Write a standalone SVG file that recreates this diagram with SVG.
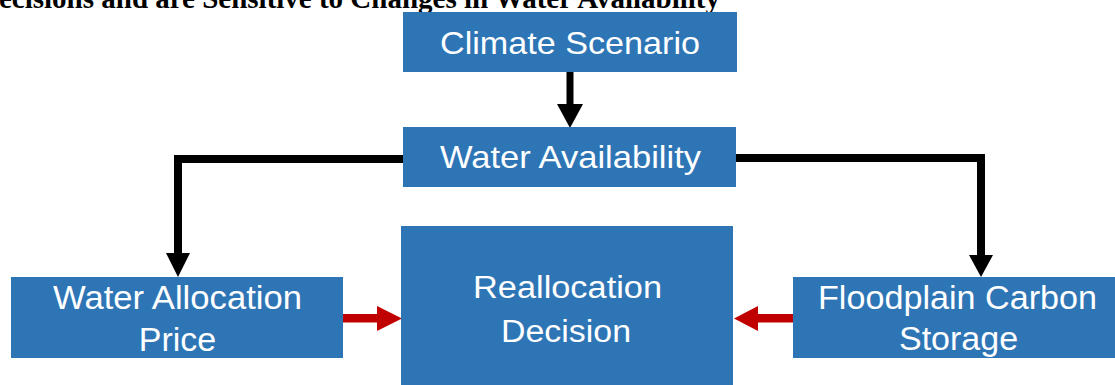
<svg xmlns="http://www.w3.org/2000/svg" width="1115" height="385" viewBox="0 0 1115 385">
  <style>
    .box { fill: #2E75B6; }
    .lbl { font-family: "Liberation Sans", Arial, sans-serif; fill: #FFFFFF; text-anchor: middle; }
    .title { font-family: "Liberation Serif", "Times New Roman", serif; font-weight: bold; fill: #000000; }
    .blk { fill: #000000; }
    .red { fill: #C00000; }
  </style>
  <rect width="1115" height="385" fill="#FFFFFF"/>
  <text class="title" x="-1" y="8" font-size="29" textLength="721" lengthAdjust="spacingAndGlyphs">ecisions and are Sensitive to Changes in Water Availability</text>

  <g id="connectors">
    <!-- Climate -> Water -->
    <rect class="blk" x="566.5" y="72" width="7" height="33"/>
    <polygon class="blk" points="557,104 583,104 570,128"/>
    <!-- Water -> Water Allocation Price -->
    <polygon class="blk" points="403,155 174,155 174,254 182,254 182,163 403,163"/>
    <polygon class="blk" points="166,253 190,253 178,277"/>
    <!-- Water -> Floodplain Carbon Storage -->
    <polygon class="blk" points="736,154 985,154 985,256 977,256 977,162 736,162"/>
    <polygon class="blk" points="969,255 993,255 981,277"/>
    <!-- Water Allocation Price -> Reallocation -->
    <rect class="red" x="343" y="314" width="35" height="8.5"/>
    <polygon class="red" points="377,306 377,331 402,318.5"/>
    <!-- Floodplain -> Reallocation -->
    <rect class="red" x="757" y="314" width="36" height="8.5"/>
    <polygon class="red" points="758,306 758,331 734,318.5"/>
  </g>

  <g id="climate-scenario">
    <rect class="box" x="403" y="12" width="334" height="60"/>
    <text class="lbl" x="570" y="54" font-size="32" textLength="260" lengthAdjust="spacingAndGlyphs">Climate Scenario</text>
  </g>

  <g id="water-availability">
    <rect class="box" x="403" y="127" width="333" height="60"/>
    <text class="lbl" x="570.5" y="168" font-size="32" textLength="261" lengthAdjust="spacingAndGlyphs">Water Availability</text>
  </g>

  <g id="reallocation-decision">
    <rect class="box" x="401" y="226" width="332" height="159"/>
    <text class="lbl" x="567.5" y="298" font-size="31" textLength="189" lengthAdjust="spacingAndGlyphs">Reallocation</text>
    <text class="lbl" x="566" y="342" font-size="31" textLength="130" lengthAdjust="spacingAndGlyphs">Decision</text>
  </g>

  <g id="water-allocation-price">
    <rect class="box" x="11" y="277" width="332" height="81"/>
    <text class="lbl" x="177.5" y="309" font-size="34" textLength="249" lengthAdjust="spacingAndGlyphs">Water Allocation</text>
    <text class="lbl" x="177.5" y="351" font-size="34">Price</text>
  </g>

  <g id="floodplain-carbon-storage">
    <rect class="box" x="793" y="277" width="330" height="81"/>
    <text class="lbl" x="957.5" y="309" font-size="34" textLength="279" lengthAdjust="spacingAndGlyphs">Floodplain Carbon</text>
    <text class="lbl" x="958.5" y="350" font-size="34">Storage</text>
  </g>
</svg>
